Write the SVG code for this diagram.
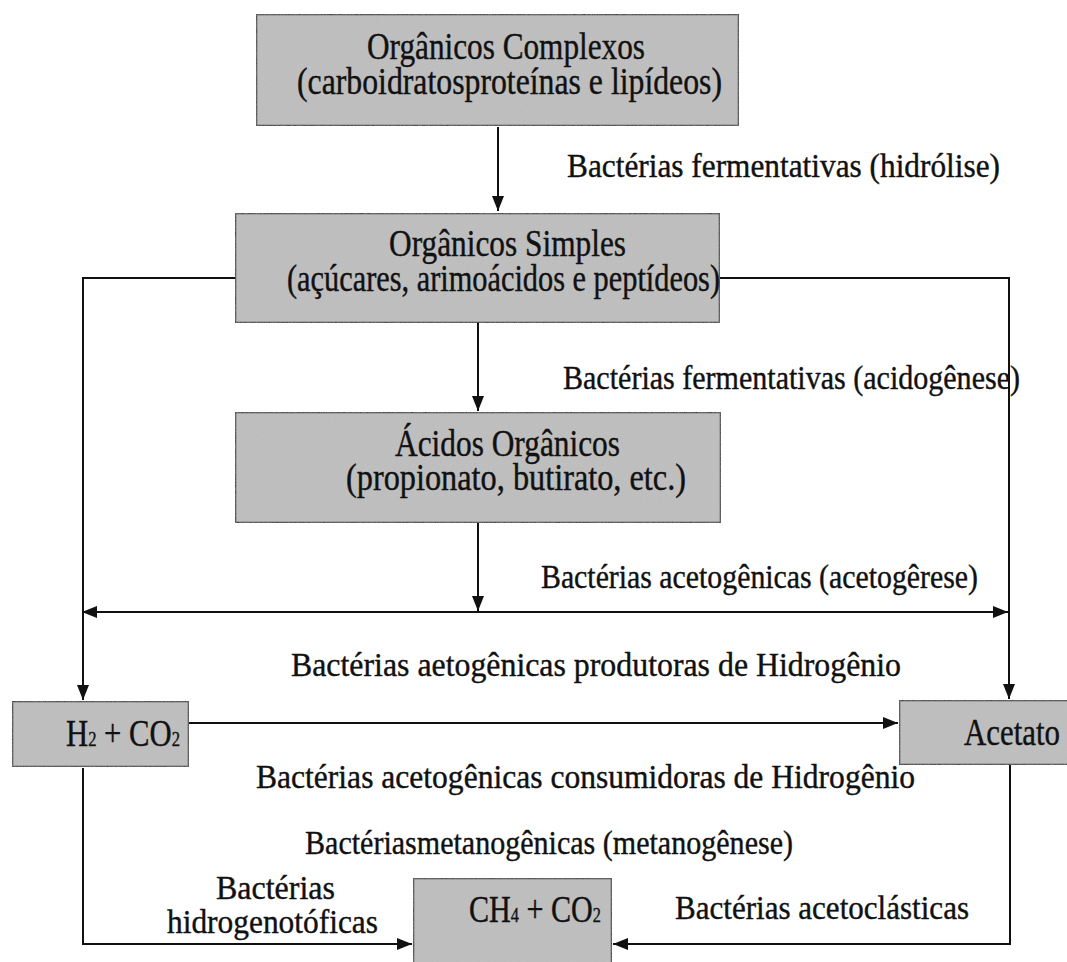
<svg xmlns="http://www.w3.org/2000/svg" width="1067" height="962" viewBox="0 0 1067 962">
<defs>
<marker id="arr" markerUnits="userSpaceOnUse" markerWidth="16" markerHeight="12" refX="15" refY="6" orient="auto-start-reverse">
<path d="M0,0 L15,6 L0,12 z" fill="#111"/>
</marker>
<filter id="grain" x="0" y="0" width="100%" height="100%">
<feTurbulence type="fractalNoise" baseFrequency="0.9" numOctaves="2" seed="3" result="n"/>
<feColorMatrix in="n" type="matrix" values="0 0 0 0 0.45  0 0 0 0 0.45  0 0 0 0 0.45  0 0 0 0.5 0" result="g"/>
<feComposite in="g" in2="SourceGraphic" operator="atop"/>
</filter>
</defs>
<style>
.box{fill:#c2c2c2;stroke:#1a1a1a;stroke-width:2.5}
.t{font-family:"Liberation Serif","Times New Roman",serif;fill:#111;stroke:#111;stroke-width:0.4}
.bt{font-size:37px}
.lb{font-size:34px}
.c{fill:none;stroke:#111;stroke-width:2}
</style>
<rect width="1067" height="962" fill="#fff"/>

<g id="connectors">
<path class="c" d="M498,127 V211" marker-end="url(#arr)"/>
<path class="c" d="M720,278 H1009 V699" marker-end="url(#arr)"/>
<path class="c" d="M235,278 H83 V700" marker-end="url(#arr)"/>
<path class="c" d="M478,323 V411" marker-end="url(#arr)"/>
<path class="c" d="M478,523 V611" marker-end="url(#arr)"/>
<path class="c" d="M82,612 H1008" marker-start="url(#arr)" marker-end="url(#arr)"/>
<path class="c" d="M189,723 H898" marker-end="url(#arr)"/>
<path class="c" d="M83,768 V944 H412" marker-end="url(#arr)"/>
<path class="c" d="M1010,765 V944 H613" marker-end="url(#arr)"/>
</g>

<g id="organicos-complexos">
<rect class="box" x="256" y="14" width="483" height="112" filter="url(#grain)"/>
<text class="t bt" x="367" y="59" textLength="278" lengthAdjust="spacingAndGlyphs">Orgânicos Complexos</text>
<text class="t bt" x="297" y="94" textLength="425" lengthAdjust="spacingAndGlyphs">(carboidratosproteínas e lipídeos)</text>
</g>

<g id="organicos-simples">
<rect class="box" x="235" y="213" width="485" height="110" filter="url(#grain)"/>
<text class="t bt" x="389" y="256" textLength="237" lengthAdjust="spacingAndGlyphs">Orgânicos Simples</text>
<text class="t bt" x="287" y="291" textLength="433" lengthAdjust="spacingAndGlyphs">(açúcares, arimoácidos e peptídeos)</text>
</g>

<g id="acidos-organicos">
<rect class="box" x="235" y="412" width="486" height="111" filter="url(#grain)"/>
<text class="t bt" x="395" y="456" textLength="225" lengthAdjust="spacingAndGlyphs">Ácidos Orgânicos</text>
<text class="t bt" x="346" y="490" textLength="340" lengthAdjust="spacingAndGlyphs">(propionato, butirato, etc.)</text>
</g>

<g id="h2-co2">
<rect class="box" x="12" y="701" width="177" height="66" filter="url(#grain)"/>
<text class="t bt" x="66" y="746" textLength="114" lengthAdjust="spacingAndGlyphs">H<tspan font-size="20px">2</tspan> + CO<tspan font-size="20px">2</tspan></text>
</g>

<g id="acetato">
<rect class="box" x="899" y="700" width="175" height="65" filter="url(#grain)"/>
<text class="t bt" x="964" y="745" textLength="96" lengthAdjust="spacingAndGlyphs">Acetato</text>
</g>

<g id="ch4-co2">
<rect class="box" x="413" y="878" width="199" height="100" filter="url(#grain)"/>
<text class="t bt" x="469" y="922" textLength="132" lengthAdjust="spacingAndGlyphs">CH<tspan font-size="20px">4</tspan> + CO<tspan font-size="20px">2</tspan></text>
</g>

<g id="labels">
<text class="t lb" x="567" y="177" textLength="433" lengthAdjust="spacingAndGlyphs">Bactérias fermentativas (hidrólise)</text>
<text class="t lb" x="563" y="389" textLength="457" lengthAdjust="spacingAndGlyphs">Bactérias fermentativas (acidogênese)</text>
<text class="t lb" x="541" y="588" textLength="437" lengthAdjust="spacingAndGlyphs">Bactérias acetogênicas (acetogêrese)</text>
<text class="t lb" x="291" y="676" textLength="610" lengthAdjust="spacingAndGlyphs">Bactérias aetogênicas produtoras de Hidrogênio</text>
<text class="t lb" x="256" y="788" textLength="659" lengthAdjust="spacingAndGlyphs">Bactérias acetogênicas consumidoras de Hidrogênio</text>
<text class="t lb" x="305" y="854" textLength="488" lengthAdjust="spacingAndGlyphs">Bactériasmetanogênicas (metanogênese)</text>
<text class="t lb" x="216" y="899" textLength="119" lengthAdjust="spacingAndGlyphs">Bactérias</text>
<text class="t lb" x="167" y="933" textLength="211" lengthAdjust="spacingAndGlyphs">hidrogenotóficas</text>
<text class="t lb" x="675" y="919" textLength="294" lengthAdjust="spacingAndGlyphs">Bactérias acetoclásticas</text>
</g>
</svg>
